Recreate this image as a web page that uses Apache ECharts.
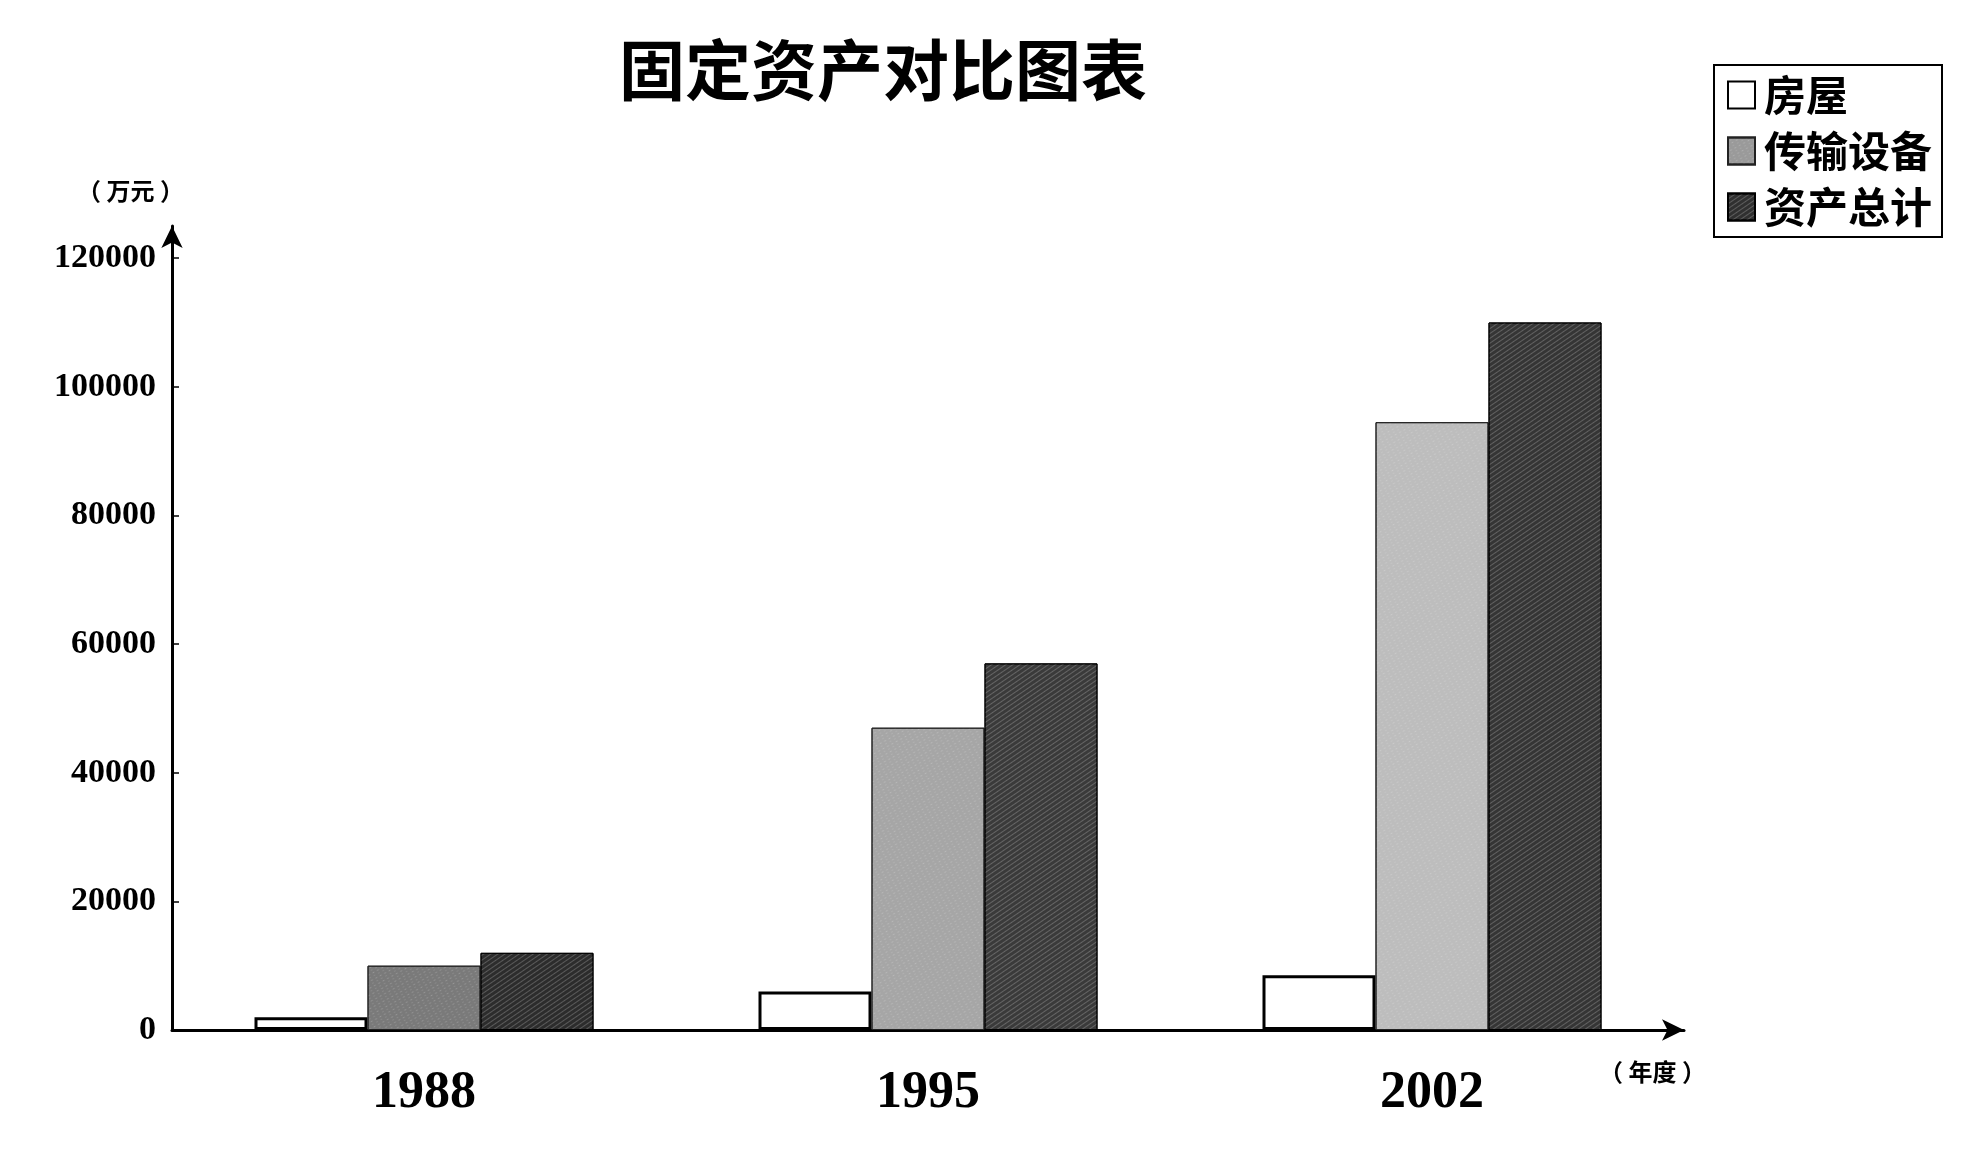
<!DOCTYPE html>
<html>
<head>
<meta charset="utf-8">
<script src="https://cdn.jsdelivr.net/npm/echarts@6/dist/echarts.min.js"></script>
<style>html,body{margin:0;padding:0;background:#fff;}#c{width:1965px;height:1168px;}</style>
</head>
<body>
<div id="c"></div>
<script>
const categories = ['1988', '1995', '2002'];
const seriesNames = ['房屋', '传输设备', '资产总计'];
const houseValues = [2000, 6000, 8500];
const equipValues = [10000, 47000, 94500];
const totalValues = [12000, 57000, 110000];
const equipColors = ['#7a7a7a', '#a6a6a6', '#bdbdbd'];
const totalColors = ['#2c2c2c', '#3a3a3a', '#353535'];
const yMin = 0, yMax = 125000, yInterval = 20000;

const chart = echarts.init(document.getElementById('c'));
const serif = '"Liberation Serif", "DejaVu Serif", serif';
const cjk = '"Noto Sans CJK SC", sans-serif';

chart.setOption({
  backgroundColor: '#fff',
  animation: false,
  title: [
    { text: '固定资产对比图表', left: 614, top: 32,
      textStyle: { fontFamily: cjk, fontSize: 66, fontWeight: 'bold', color: '#000' } },
    { text: '（ 万元 ）', left: 72, top: 174,
      textStyle: { fontFamily: cjk, fontSize: 24, fontWeight: 'bold', color: '#000' } },
    { text: '（ 年度 ）', left: 1594, top: 1055,
      textStyle: { fontFamily: cjk, fontSize: 24, fontWeight: 'bold', color: '#000' } }
  ],
  legend: {
    orient: 'vertical', left: 1714, top: 65,
    padding: [9, 10, 9, 13], itemGap: 14, itemWidth: 27, itemHeight: 27,
    borderColor: '#000', borderWidth: 2, backgroundColor: '#fff',
    icon: 'rect',
    textStyle: { fontFamily: cjk, fontSize: 42, fontWeight: 'bold', color: '#000', padding: [0, 0, 0, 4] },
    data: seriesNames
  },
  grid: { left: 172, top: 226, width: 1512, height: 804 },
  xAxis: {
    type: 'category', data: categories,
    axisLine: { show: true, lineStyle: { color: '#000', width: 3 }, symbol: ['none', 'arrow'], symbolSize: [16, 22] },
    axisTick: { show: false },
    axisLabel: { margin: 38, fontFamily: serif, fontSize: 52, fontWeight: 'bold', color: '#000' }
  },
  yAxis: {
    type: 'value', min: yMin, max: yMax, interval: yInterval,
    splitLine: { show: false },
    axisLine: { show: true, lineStyle: { color: '#000', width: 3 }, symbol: ['none', 'arrow'], symbolSize: [16, 22] },
    axisTick: { show: true, inside: true, length: 7, lineStyle: { color: '#000', width: 1.5 } },
    axisLabel: { showMaxLabel: false, margin: 16, fontFamily: serif, fontSize: 34, fontWeight: 'bold', color: '#000',
      formatter: v => String(v) }
  },
  series: [
    { name: seriesNames[0], type: 'bar', barWidth: 113, barGap: '0%',
      itemStyle: { color: '#fff', borderColor: '#000', borderWidth: 3 },
      data: houseValues },
    { name: seriesNames[1], type: 'bar', barWidth: 113, barGap: '0%',
      itemStyle: { color: '#9a9a9a', borderColor: '#222', borderWidth: 1,
        decal: { symbol: 'rect', symbolSize: 0.6, dashArrayX: [[2, 3], [3, 2]], dashArrayY: [1, 2], rotation: -0.5, color: 'rgba(255,255,255,0.35)' } },
      data: equipValues.map((v, i) => ({ value: v, itemStyle: { color: equipColors[i] } })) },
    { name: seriesNames[2], type: 'bar', barWidth: 113, barGap: '0%',
      itemStyle: { color: '#303030', borderColor: '#000', borderWidth: 1,
        decal: { symbol: 'rect', dashArrayX: [1, 0], dashArrayY: [1, 3], rotation: -0.6, color: 'rgba(255,255,255,0.22)' } },
      data: totalValues.map((v, i) => ({ value: v, itemStyle: { color: totalColors[i] } })) }
  ]
});
</script>
</body>
</html>
